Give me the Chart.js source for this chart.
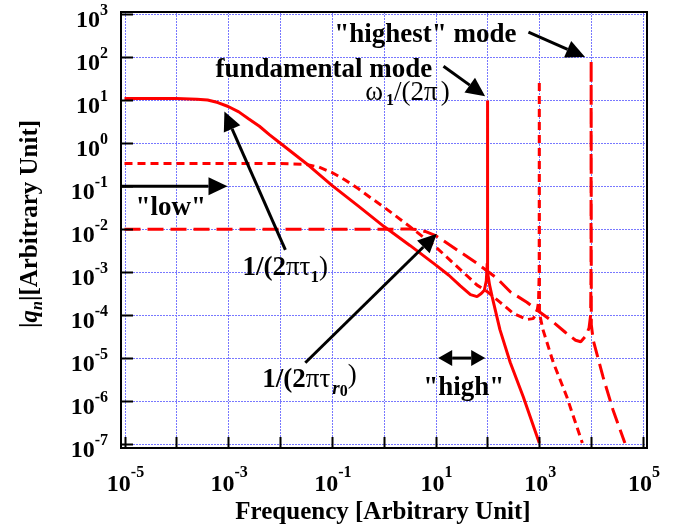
<!DOCTYPE html>
<html>
<head>
<meta charset="utf-8">
<script src="https://cdn.jsdelivr.net/npm/chart.js@4.4.1/dist/chart.umd.min.js"></script>
<style>
html, body { margin: 0; padding: 0; background: #fff; }
</style>
</head>
<body>
<canvas id="chart" width="686" height="529"></canvas>
<script>
// values (frequency, |q_n|)
const freqFund = [1e-5, 1e-4, 2.5e-4, 4e-4, 6.3e-4, 1e-3, 1.6e-3, 2.5e-3, 4e-3, 6.3e-3,
    0.01, 0.032, 0.1, 0.32, 1, 3.2, 10, 18, 30, 47,
    63, 76, 87, 95, 99, 100, 101, 110, 123, 174,
    275, 490, 1000];
const ampFund = [11, 11, 10.7, 10.2, 8.9, 7.2, 5.4, 3.7, 2.5, 1.58,
    1.02, 0.34, 0.105, 0.035, 0.0117, 4.2e-3, 1.48e-3, 8.5e-4, 4.8e-4, 3.0e-4,
    2.7e-4, 3.2e-4, 3.8e-4, 6.3e-4, 1.6e-3, 10, 1.0e-3, 5e-4, 2.7e-4, 4.6e-5,
    7.9e-6, 1.26e-6, 1.05e-7];

const freqMid = [1e-5, 0.01, 0.032, 0.056, 0.1, 0.18, 0.32, 0.56, 1, 3.2,
    10, 26, 63, 100, 174, 316, 575, 760, 890, 966,
    995, 1000, 1007, 1175, 1860, 3390, 6760];
const ampMid = [0.34, 0.34, 0.324, 0.28, 0.21, 0.14, 0.089, 0.054, 0.033, 0.0115,
    3.9e-3, 1.35e-3, 5e-4, 3.5e-4, 2e-4, 1.1e-4, 7.9e-5, 8.3e-5, 1.1e-4, 2e-4,
    1e-3, 29, 1.1e-4, 4.6e-5, 7.9e-6, 1.26e-6, 1.05e-7];

const freqHigh = [1e-5, 1, 2, 3.2, 4.5, 6.3, 10, 14, 26, 63,
    155, 275, 575, 1000, 1860, 3160, 5000, 6300, 7900, 9100,
    9770, 9930, 10000, 10070, 10960, 17000, 26300, 44700];
const ampHigh = [0.01, 0.01, 0.0101, 0.0101, 0.0098, 0.0089, 0.0071, 0.0055, 3.3e-3, 1.6e-3,
    7.1e-4, 3.5e-4, 2e-4, 1.2e-4, 6.9e-5, 4e-5, 2.6e-5, 2.4e-5, 3.3e-5, 5e-5,
    1e-4, 1e-3, 85, 6e-5, 2.6e-5, 3.6e-6, 6.3e-7, 1.05e-7];

// tick labels (decades)
const xTicks = [1e-5, 1e-4, 1e-3, 1e-2, 1e-1, 1, 10, 100, 1e3, 1e4, 1e5];
const xTickExp = ['-5', '-4', '-3', '-2', '-1', '0', '1', '2', '3', '4', '5'];
const yTicks = [1e3, 1e2, 10, 1, 0.1, 0.01, 1e-3, 1e-4, 1e-5, 1e-6, 1e-7];
const yTickExp = ['3', '2', '1', '0', '-1', '-2', '-3', '-4', '-5', '-6', '-7'];

// axis limits
const xMin = 8.56e-6, xMax = 1.194e5;
const yMin = 8.07e-8, yMax = 1143;

// annotation arrows in data units: [x0, y0, x1, y1]
const arrows = [
    [xMin, 0.1, 9.7e-4, 0.1],          // "low"
    [0.01265, 3.3e-3, 8.45e-4, 5.5],   // 1/(2 pi tau1)
    [0.0307, 7.8e-6, 10.6, 7.9e-3],    // 1/(2 pi tau r0)
    [14.2, 62.4, 90.3, 12.5],          // fundamental mode
    [617, 386, 7620, 103]              // "highest" mode
];
const doubleArrow = [11.2, 1e-5, 90.3, 1e-5]; // "high"

const serif = '"Liberation Serif", "Times New Roman", serif';
const B = s => 'bold ' + s + 'px ' + serif;
const R = s => s + 'px ' + serif;
const BI = s => 'italic bold ' + s + 'px ' + serif;

// text labels: anchor (left, baseline) in data units
const notes = [
    { x: 0.111, y: 235, runs: [{ t: '"highest" mode', f: B(27) }] },
    { x: 5.66e-4, y: 35.9, runs: [{ t: 'fundamental mode', f: B(27) }] },
    { x: 0.44, y: 10.4, runs: [{ t: 'ω', f: R(27), gap: 3 }, { t: '1', f: B(16), dy: 5 },
        { t: '/(2π', f: R(27), gap: 3 }, { t: ')', f: R(27) }] },
    { x: 1.63e-5, y: 0.0218, runs: [{ t: '"low"', f: B(27) }] },
    { x: 1.88e-3, y: 8.7e-4, runs: [{ t: '1/(2', f: B(27) }, { t: 'πτ', f: R(27) },
        { t: '1', f: B(17), dy: 7 }, { t: ')', f: R(27) }] },
    { x: 4.56e-3, y: 2.13e-6, runs: [{ t: '1/(2', f: B(27) }, { t: 'πτ', f: R(27), gap: 2 },
        { t: 'r', f: BI(19), dy: 7 }, { t: '0', f: B(16), dy: 9 }, { t: ')', f: R(27), dy: -4 }] },
    { x: 5.77, y: 1.39e-6, runs: [{ t: '"high"', f: B(27) }] }
];

function drawRuns(ctx, x, y, runs, align) {
    let total = 0;
    runs.forEach(r => { ctx.font = r.f; total += ctx.measureText(r.t).width + (r.gap || 0); });
    if (align === 'right') x -= total;
    if (align === 'center') x -= total / 2;
    runs.forEach(r => {
        ctx.font = r.f;
        ctx.fillText(r.t, x, y + (r.dy || 0));
        x += ctx.measureText(r.t).width + (r.gap || 0);
    });
}

function arrowHead(ctx, xb, yb, xt, yt, len, half) {
    const a = Math.atan2(yt - yb, xt - xb);
    const bx = xt - len * Math.cos(a), by = yt - len * Math.sin(a);
    ctx.beginPath();
    ctx.moveTo(xt, yt);
    ctx.lineTo(bx + half * Math.sin(a), by - half * Math.cos(a));
    ctx.lineTo(bx - half * Math.sin(a), by + half * Math.cos(a));
    ctx.closePath();
    ctx.fill();
    return [bx, by];
}

// dotted blue grid under the curves
const grid = {
    id: 'grid',
    beforeDatasetsDraw(chart) {
        const ctx = chart.ctx;
        const ca = chart.chartArea;
        const xs = chart.scales.x, ys = chart.scales.y;
        ctx.save();
        ctx.strokeStyle = '#7878ff';
        ctx.lineWidth = 1;
        ctx.setLineDash([2, 1]);
        ctx.beginPath();
        xTicks.forEach(v => {
            const px = Math.round(xs.getPixelForValue(v)) + 0.5;
            ctx.moveTo(px, ca.top); ctx.lineTo(px, ca.bottom);
        });
        yTicks.forEach(v => {
            const py = Math.round(ys.getPixelForValue(v)) + 0.5;
            ctx.moveTo(ca.left, py); ctx.lineTo(ca.right, py);
        });
        ctx.stroke();
        ctx.restore();
    }
};

const decorations = {
    id: 'decorations',
    afterDraw(chart) {
        const ctx = chart.ctx;
        const ca = chart.chartArea;
        const xs = chart.scales.x, ys = chart.scales.y;
        ctx.save();
        ctx.fillStyle = '#000';
        ctx.strokeStyle = '#000';

        // frame and inward ticks
        ctx.lineWidth = 2;
        ctx.strokeRect(ca.left, ca.top, ca.right - ca.left, ca.bottom - ca.top);
        ctx.beginPath();
        yTicks.forEach(v => {
            const py = Math.round(ys.getPixelForValue(v)) + 0.5;
            ctx.moveTo(ca.left, py); ctx.lineTo(ca.left + 12, py);
        });
        xTicks.forEach(v => {
            const px = Math.round(xs.getPixelForValue(v)) + 0.5;
            ctx.moveTo(px, ca.bottom); ctx.lineTo(px, ca.bottom - 11);
        });
        ctx.stroke();

        // tick labels
        ctx.textBaseline = 'alphabetic';
        ctx.textAlign = 'left';
        yTicks.forEach((v, i) => {
            const py = ys.getPixelForValue(v);
            drawRuns(ctx, 108, py + 13, [{ t: '10', f: B(24) }, { t: yTickExp[i], f: B(16), dy: -12 }], 'right');
        });
        xTicks.forEach((v, i) => {
            if (i % 2) return;
            const px = xs.getPixelForValue(v);
            drawRuns(ctx, px + 1, 491, [{ t: '10', f: B(24) }, { t: xTickExp[i], f: B(16), dy: -14 }], 'center');
        });

        // axis titles
        drawRuns(ctx, 383, 519, [{ t: 'Frequency [Arbitrary Unit]', f: B(25) }], 'center');
        ctx.save();
        ctx.translate(37, 224);
        ctx.rotate(-Math.PI / 2);
        drawRuns(ctx, 0, 0, [{ t: '|', f: B(25) }, { t: 'q', f: BI(25) }, { t: 'n', f: BI(16), dy: 5 },
            { t: '|[Arbitrary Unit]', f: B(25) }], 'center');
        ctx.restore();

        // arrows
        ctx.lineWidth = 3;
        arrows.forEach(a => {
            const x0 = xs.getPixelForValue(a[0]), y0 = ys.getPixelForValue(a[1]);
            const x1 = xs.getPixelForValue(a[2]), y1 = ys.getPixelForValue(a[3]);
            const [bx, by] = arrowHead(ctx, x0, y0, x1, y1, 19, 9);
            ctx.beginPath(); ctx.moveTo(x0, y0); ctx.lineTo(bx, by); ctx.stroke();
        });
        {
            const x0 = xs.getPixelForValue(doubleArrow[0]), y0 = ys.getPixelForValue(doubleArrow[1]);
            const x1 = xs.getPixelForValue(doubleArrow[2]), y1 = ys.getPixelForValue(doubleArrow[3]);
            const [bx1, by1] = arrowHead(ctx, x0, y0, x1, y1, 14, 8);
            const [bx0, by0] = arrowHead(ctx, x1, y1, x0, y0, 14, 8);
            ctx.beginPath(); ctx.moveTo(bx0, by0); ctx.lineTo(bx1, by1); ctx.stroke();
        }

        // text notes
        notes.forEach(n => {
            drawRuns(ctx, xs.getPixelForValue(n.x), ys.getPixelForValue(n.y), n.runs, 'left');
        });
        ctx.restore();
    }
};

const toPoints = (xs, ys) => xs.map((x, i) => ({ x: x, y: ys[i] }));

new Chart(document.getElementById('chart'), {
    type: 'scatter',
    data: {
        datasets: [
            { data: toPoints(freqFund, ampFund), borderColor: '#ff0000', borderWidth: 3 },
            { data: toPoints(freqMid, ampMid), borderColor: '#ff0000', borderWidth: 3, borderDash: [8, 5] },
            { data: toPoints(freqHigh, ampHigh), borderColor: '#ff0000', borderWidth: 3, borderDash: [16, 7] }
        ].map(d => Object.assign(d, { showLine: true, pointRadius: 0, tension: 0, borderJoinStyle: 'bevel' }))
    },
    options: {
        responsive: false,
        devicePixelRatio: 1,
        animation: false,
        layout: { padding: { left: 121, right: 39, top: 12, bottom: 81 } },
        plugins: { legend: { display: false }, tooltip: { enabled: false } },
        scales: {
            x: {
                type: 'logarithmic', min: xMin, max: xMax,
                afterBuildTicks: s => { s.ticks = xTicks.map(v => ({ value: v })); },
                ticks: { display: false },
                grid: { display: false, drawTicks: false },
                border: { display: false }
            },
            y: {
                type: 'logarithmic', min: yMin, max: yMax,
                afterBuildTicks: s => { s.ticks = yTicks.map(v => ({ value: v })); },
                ticks: { display: false },
                grid: { display: false, drawTicks: false },
                border: { display: false }
            }
        }
    },
    plugins: [grid, decorations]
});
</script>
</body>
</html>
